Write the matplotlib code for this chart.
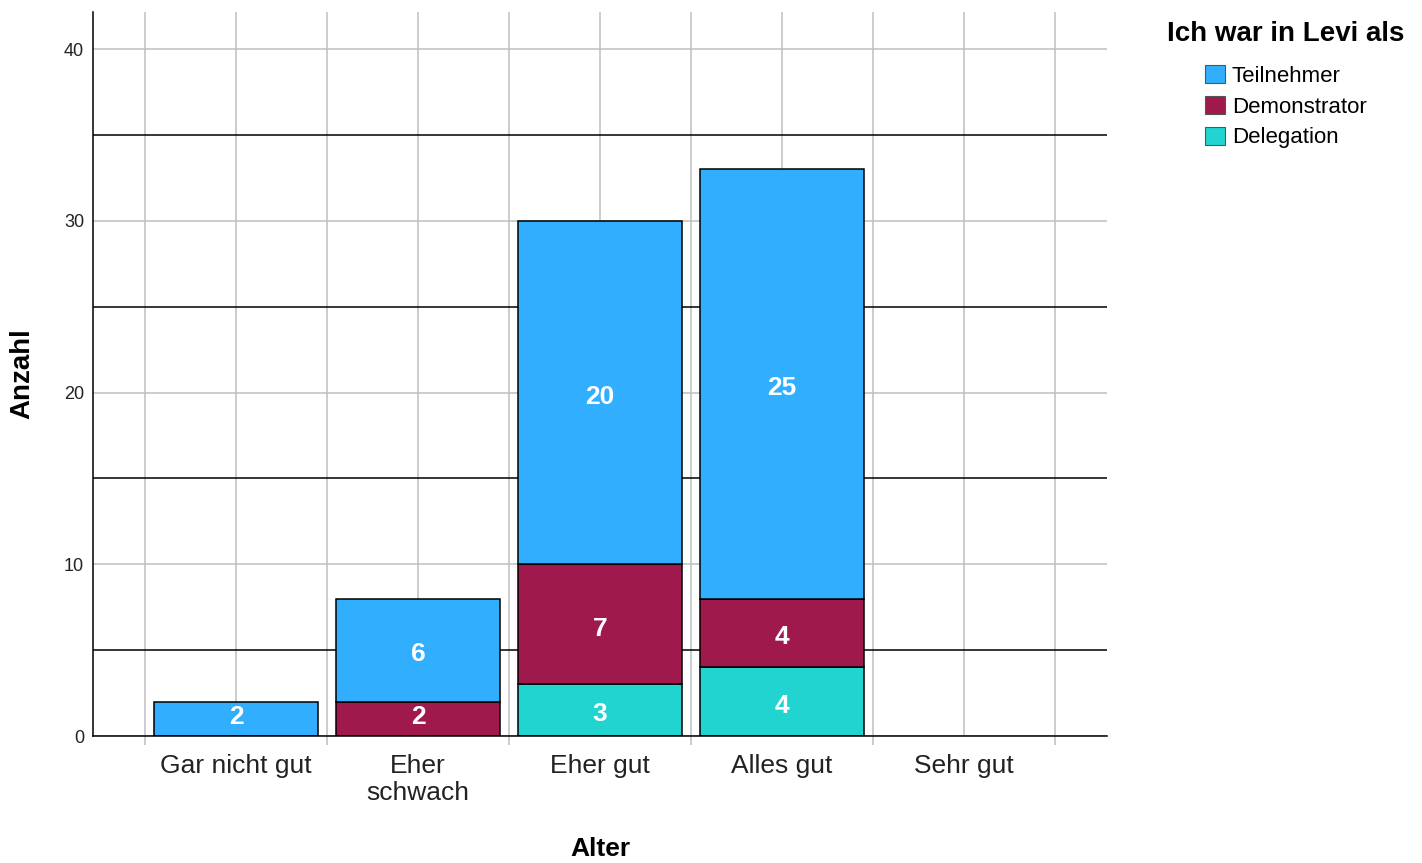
import numpy as np
import matplotlib
matplotlib.use('Agg')
import matplotlib.pyplot as plt
from matplotlib.ticker import FixedLocator

plt.rcParams['font.family'] = ['Liberation Sans', 'DejaVu Sans']

categories = ['Gar nicht gut', 'Eher\nschwach', 'Eher gut', 'Alles gut', 'Sehr gut']
delegation = [0, 0, 3, 4, 0]
demonstrator = [0, 2, 7, 4, 0]
teilnehmer = [2, 6, 20, 25, 0]

series = [('Delegation', delegation, '#22D4D0'),
          ('Demonstrator', demonstrator, '#A0194C'),
          ('Teilnehmer', teilnehmer, '#31AEFE')]

fig = plt.figure(figsize=(14.22, 8.63), dpi=100)
ax = fig.add_axes([93/1422, 1-736/863, (1107-93)/1422, (736-12)/863])

x = np.arange(len(categories))
bottom = np.zeros(len(categories))
handles = {}
for name, vals, col in series:
    vals = np.array(vals, dtype=float)
    keep = vals > 0
    bars = ax.bar(x[keep], vals[keep], 0.9, bottom=bottom[keep], color=col,
                  edgecolor='black', linewidth=1.1, zorder=3)
    handles[name] = bars
    for xi, v, b in zip(x[keep], vals[keep], bottom[keep]):
        dy = -3 if v >= 3 else 1
        ax.annotate('%d' % v, (xi, b + v/2), xytext=(0, dy), textcoords='offset points',
                    ha='center', va='center', color='white', fontsize=19,
                    fontweight='bold', zorder=4)
    bottom += vals

ax.set_xlim(-0.786, 4.786)
ax.set_ylim(0, 42.17)

ax.set_xticks(x)
ax.set_xticklabels(categories, fontsize=19, color='#222222', linespacing=1.15)
ax.xaxis.set_minor_locator(FixedLocator(np.arange(-0.5, 5, 1)))
ax.tick_params(axis='x', which='major', length=0, pad=13)
ax.tick_params(axis='x', which='minor', length=6.5, width=1.1, color='#BEBEBE', direction='out')

ax.set_yticks([0, 10, 20, 30, 40])
ax.set_yticklabels(['0', '10', '20', '30', '40'], fontsize=13, color='#222222')
ax.yaxis.set_minor_locator(FixedLocator([5, 15, 25, 35]))
ax.tick_params(axis='y', which='both', length=0, pad=6.5)

ax.xaxis.grid(True, which='both', color='#BEBEBE', linewidth=1.1, zorder=0)
ax.yaxis.grid(True, which='major', color='#BEBEBE', linewidth=1.1, zorder=0)
ax.yaxis.grid(True, which='minor', color='black', linewidth=1.1, zorder=1)
ax.set_axisbelow(True)

for s in ['top', 'right']:
    ax.spines[s].set_visible(False)
for s in ['left', 'bottom']:
    ax.spines[s].set_linewidth(1.1)
    ax.spines[s].set_zorder(5)

fig.text(22/1422, 1-374/863, 'Anzahl', rotation=90, ha='center', va='center',
         fontsize=20, fontweight='bold')
fig.text(600/1422, 1-849/863, 'Alter', ha='center', va='center',
         fontsize=19, fontweight='bold')

# legend title as separate text so the gap to the entries matches
fig.text(1286/1422, 1-34/863, 'Ich war in Levi als', ha='center', va='center',
         fontsize=20, fontweight='bold')
order = ['Teilnehmer', 'Demonstrator', 'Delegation']
leg = fig.legend([handles[n] for n in order], order, loc='upper left',
                 bbox_to_anchor=(1205/1422, 1-65/863), bbox_transform=fig.transFigure,
                 frameon=False, fontsize=16,
                 handlelength=0.9, handleheight=0.9, handletextpad=0.3,
                 labelspacing=0.4, borderpad=0, borderaxespad=0)
for p in leg.get_patches():
    p.set_linewidth(0.8)
    p.set_edgecolor('#555555')

fig.savefig('out.png', dpi=100)
